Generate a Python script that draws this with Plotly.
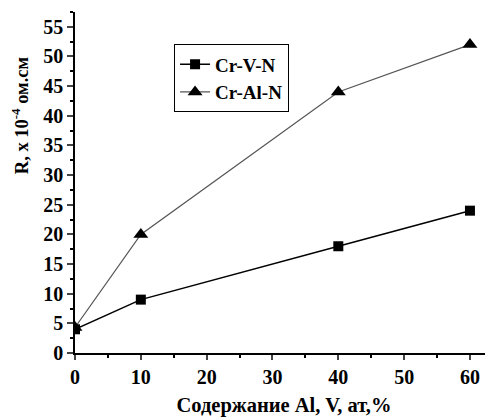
import plotly.graph_objects as go

x_vals = [0, 10, 40, 60]
crvn = [4, 9, 18, 24]
cralnn = [4.3, 20, 44, 52]
series_names = ["Cr-V-N", "Cr-Al-N"]
x_ticks = [0, 10, 20, 30, 40, 50, 60]
y_ticks = [0, 5, 10, 15, 20, 25, 30, 35, 40, 45, 50, 55]

font_family = "Liberation Serif"
bold = dict(family=font_family, size=20, color="black", weight="bold")

fig = go.Figure()
fig.add_trace(go.Scatter(x=x_vals, y=cralnn, name=series_names[1], mode="lines+markers",
                         line=dict(color="#555555", width=1.2),
                         marker=dict(symbol="triangle-up", size=13, color="black")))
fig.add_trace(go.Scatter(x=x_vals, y=crvn, name=series_names[0], mode="lines+markers",
                         line=dict(color="black", width=1.5),
                         marker=dict(symbol="square", size=10, color="black")))

fig.update_layout(
    width=485, height=409,
    margin=dict(l=67, r=0, t=4, b=64),
    plot_bgcolor="white", paper_bgcolor="white",
    font=dict(family=font_family, size=16, color="black", weight="bold"),
    legend=dict(x=0.237, y=0.905, xanchor="left", yanchor="top",
                bordercolor="black", borderwidth=1, traceorder="reversed",
                font=dict(family=font_family, size=19, color="black", weight="bold"),
                bgcolor="white", itemwidth=30, tracegroupgap=0),
    showlegend=True,
    annotations=[dict(text="R, x 10<sup>-4</sup> ом.см", textangle=-90,
                      xref="paper", yref="paper", x=-0.131, y=0.698,
                      xanchor="center", yanchor="middle", showarrow=False,
                      font=dict(family=font_family, size=18.5, color="black", weight="bold"))],
)
fig.update_xaxes(range=[0, 63.5], tickvals=x_ticks, ticks="outside", ticklen=5, tickwidth=1.5,
                 showline=True, linecolor="black", linewidth=1.5, showgrid=False, zeroline=False,
                 tickfont=bold, automargin=False,
                 minor=dict(ticks="outside", ticklen=3, dtick=5, tick0=0, tickcolor="black"),
                 title=dict(text="Содержание Al, V, ат,%", font=dict(family=font_family, size=20.5, weight="bold"), standoff=22))
fig.update_yaxes(range=[0, 57.5], tickvals=y_ticks, ticks="outside", ticklen=6, tickwidth=1.5,
                 showline=True, linecolor="black", linewidth=1.5, showgrid=False, zeroline=False,
                 tickfont=bold, automargin=False,
                 minor=dict(ticks="outside", ticklen=3, dtick=2.5, tick0=0, tickcolor="black"))

fig.write_html("out.html")
